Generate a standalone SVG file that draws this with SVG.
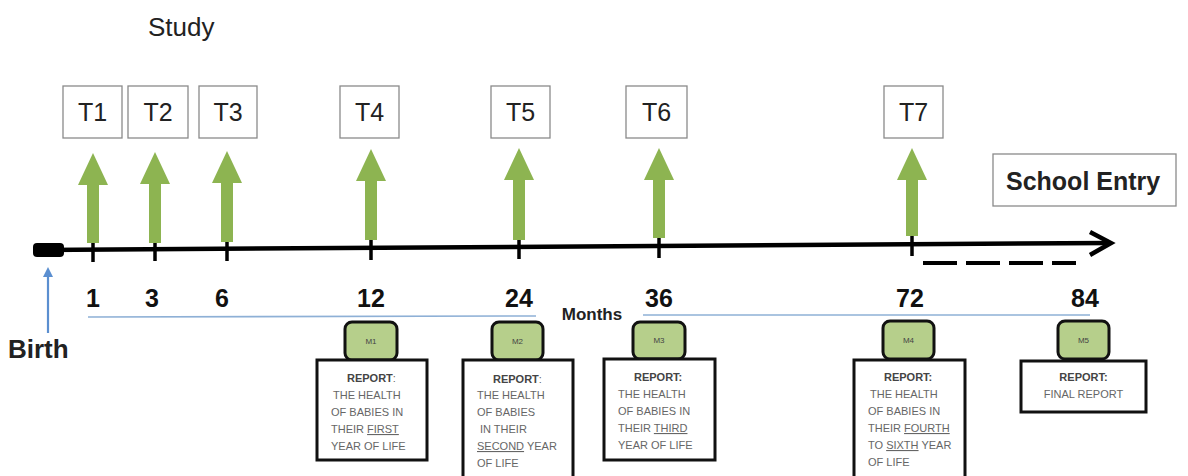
<svg xmlns="http://www.w3.org/2000/svg" width="1188" height="476" viewBox="0 0 1188 476">
<defs>
<style>
.t{font-family:"Liberation Sans",Arial,sans-serif;}
.tbox{fill:#fff;stroke:#8a8a8a;stroke-width:1.3;}
.tlab{font-size:25px;fill:#222;text-anchor:middle;}
.num{font-size:25px;font-weight:bold;fill:#111;text-anchor:middle;}
.garrow{fill:#8db451;}
.tick{stroke:#000;stroke-width:3.5;}
.mbox{fill:#b6cf8b;stroke:#111;stroke-width:3;}
.mlab{font-size:8px;fill:#444;text-anchor:middle;}
.rbox{fill:#fff;stroke:#111;stroke-width:3;}
.rtxt{font-size:11px;fill:#666;}
.rhead{font-size:11px;font-weight:bold;fill:#444;}
.blue{stroke:#8eb0d6;stroke-width:1.6;fill:none;}
</style>
<marker id="bluehead" markerWidth="10" markerHeight="10" refX="5" refY="5" orient="auto" markerUnits="userSpaceOnUse">
<path d="M0,0 L10,5 L0,10 Z" fill="#5b8fd0"/>
</marker>
</defs>
<rect width="1188" height="476" fill="#fff"/>

<text id="title" class="t" x="148" y="36" font-size="26" fill="#222">Study</text>

<g id="connectors">
<line x1="40" y1="250" x2="1110" y2="243" stroke="#000" stroke-width="4.5"/>
<polyline points="1090,232 1111,243 1090,255" fill="none" stroke="#000" stroke-width="4.5" stroke-linejoin="miter"/>
<rect x="33" y="243" width="31" height="14" rx="4" fill="#000"/>
<line x1="923" y1="263" x2="1076" y2="263" stroke="#000" stroke-width="4" stroke-dasharray="34,9"/>
<line class="tick" x1="93" y1="238" x2="93" y2="262"/>
<line class="tick" x1="155" y1="237" x2="155" y2="261"/>
<line class="tick" x1="227" y1="237" x2="227" y2="261"/>
<line class="tick" x1="371" y1="236" x2="371" y2="260"/>
<line class="tick" x1="519" y1="235" x2="519" y2="259"/>
<line class="tick" x1="659" y1="234" x2="659" y2="258"/>
<line class="tick" x1="912" y1="232" x2="912" y2="256"/>
<line class="blue" x1="88" y1="317" x2="536" y2="316"/>
<line class="blue" x1="643" y1="315" x2="1090" y2="315"/>
<line x1="48" y1="333" x2="48" y2="272" stroke="#5b8fd0" stroke-width="2.2" marker-end="url(#bluehead)"/>
</g>

<g id="arrows">
<path class="garrow" d="M87,243 L87,185 L78,185 L93,153 L108,185 L99,185 L99,243 Z"/>
<path class="garrow" d="M149,243 L149,184 L140,184 L155,152 L170,184 L161,184 L161,243 Z"/>
<path class="garrow" d="M221,242 L221,183 L212,183 L227,151 L242,183 L233,183 L233,242 Z"/>
<path class="garrow" d="M365,240 L365,181 L356,181 L371,149 L386,181 L377,181 L377,240 Z"/>
<path class="garrow" d="M513,240 L513,180 L504,180 L519,148 L534,180 L525,180 L525,240 Z"/>
<path class="garrow" d="M653,238 L653,180 L644,180 L659,148 L674,180 L665,180 L665,238 Z"/>
<path class="garrow" d="M906,236 L906,180 L897,180 L912,148 L927,180 L918,180 L918,236 Z"/>
</g>

<g id="T1"><rect class="tbox" x="63" y="86" width="59" height="52"/><text class="t tlab" x="92.5" y="121">T1</text></g>
<g id="T2"><rect class="tbox" x="128" y="86" width="60" height="52"/><text class="t tlab" x="158" y="121">T2</text></g>
<g id="T3"><rect class="tbox" x="199" y="86" width="58" height="52"/><text class="t tlab" x="228" y="121">T3</text></g>
<g id="T4"><rect class="tbox" x="340" y="86" width="59" height="52"/><text class="t tlab" x="369.5" y="121">T4</text></g>
<g id="T5"><rect class="tbox" x="491" y="86" width="59" height="52"/><text class="t tlab" x="520.5" y="121">T5</text></g>
<g id="T6"><rect class="tbox" x="626" y="86" width="61" height="52"/><text class="t tlab" x="656.5" y="121">T6</text></g>
<g id="T7"><rect class="tbox" x="884" y="86" width="59" height="52"/><text class="t tlab" x="913.5" y="121">T7</text></g>

<g id="school-entry"><rect class="tbox" x="993" y="154" width="183" height="52"/><text class="t" x="1006" y="190" font-size="25" font-weight="bold" fill="#222">School Entry</text></g>

<g id="numbers">
<text class="t num" x="93" y="307">1</text>
<text class="t num" x="152" y="307">3</text>
<text class="t num" x="222" y="307">6</text>
<text class="t num" x="371" y="307">12</text>
<text class="t num" x="519" y="307">24</text>
<text class="t num" x="659" y="307">36</text>
<text class="t num" x="910" y="307">72</text>
<text class="t num" x="1085" y="307">84</text>
<text class="t" x="592" y="320" font-size="17" font-weight="bold" fill="#222" text-anchor="middle">Months</text>
</g>

<g id="birth"><text class="t" x="8" y="358" font-size="26" font-weight="bold" fill="#222">Birth</text></g>

<g id="M1">
<rect class="mbox" x="345" y="322" width="52" height="38" rx="7"/>
<text class="t mlab" x="371" y="344">M1</text>
<rect class="rbox" x="317" y="360" width="110" height="100"/>
<text class="t rhead" x="347" y="382">REPORT<tspan font-weight="normal" fill="#666">:</tspan></text>
<text class="t rtxt" x="333" y="399">THE HEALTH</text>
<text class="t rtxt" x="331" y="416">OF BABIES IN</text>
<text class="t rtxt" x="331" y="433">THEIR <tspan text-decoration="underline">FIRST</tspan></text>
<text class="t rtxt" x="331" y="450">YEAR OF LIFE</text>
</g>

<g id="M2">
<rect class="mbox" x="492" y="322" width="51" height="38" rx="7"/>
<text class="t mlab" x="517.5" y="344">M2</text>
<rect class="rbox" x="463" y="360" width="110" height="118"/>
<text class="t rhead" x="493" y="383">REPORT<tspan font-weight="normal" fill="#666">:</tspan></text>
<text class="t rtxt" x="477" y="399">THE HEALTH</text>
<text class="t rtxt" x="477" y="416">OF BABIES</text>
<text class="t rtxt" x="480" y="433">IN THEIR</text>
<text class="t rtxt" x="477" y="450"><tspan text-decoration="underline">SECOND</tspan> YEAR</text>
<text class="t rtxt" x="477" y="467">OF LIFE</text>
</g>

<g id="M3">
<rect class="mbox" x="633" y="322" width="52" height="37" rx="7"/>
<text class="t mlab" x="659" y="343">M3</text>
<rect class="rbox" x="604" y="359" width="111" height="101"/>
<text class="t rhead" x="634" y="381">REPORT:</text>
<text class="t rtxt" x="618" y="398">THE HEALTH</text>
<text class="t rtxt" x="618" y="415">OF BABIES IN</text>
<text class="t rtxt" x="618" y="432">THEIR <tspan text-decoration="underline">THIRD</tspan></text>
<text class="t rtxt" x="618" y="449">YEAR OF LIFE</text>
</g>

<g id="M4">
<rect class="mbox" x="883" y="321" width="51" height="38" rx="7"/>
<text class="t mlab" x="908.5" y="343">M4</text>
<rect class="rbox" x="854" y="360" width="111" height="118"/>
<text class="t rhead" x="884" y="381">REPORT:</text>
<text class="t rtxt" x="870" y="398">THE HEALTH</text>
<text class="t rtxt" x="868" y="415">OF BABIES IN</text>
<text class="t rtxt" x="868" y="432">THEIR <tspan text-decoration="underline">FOURTH</tspan></text>
<text class="t rtxt" x="868" y="449">TO <tspan text-decoration="underline">SIXTH</tspan> YEAR</text>
<text class="t rtxt" x="868" y="466">OF LIFE</text>
</g>

<g id="M5">
<rect class="mbox" x="1058" y="321" width="51" height="38" rx="7"/>
<text class="t mlab" x="1083.5" y="343">M5</text>
<rect class="rbox" x="1021" y="361" width="125" height="51"/>
<text class="t rhead" x="1083.5" y="381" text-anchor="middle">REPORT:</text>
<text class="t rtxt" x="1083.5" y="398" text-anchor="middle">FINAL REPORT</text>
</g>
</svg>
